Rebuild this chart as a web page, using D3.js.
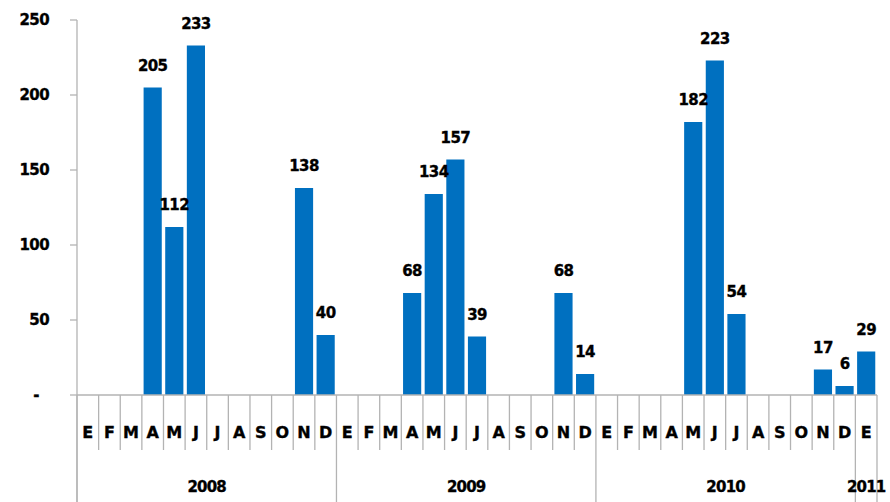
<!DOCTYPE html>
<html>
<head>
<meta charset="utf-8">
<script src="https://cdn.jsdelivr.net/npm/d3@7"></script>
<style>
  html, body { margin: 0; padding: 0; background: #fff; }
  #chart { width: 890px; height: 502px; }
  text { font-family: "DejaVu Sans", sans-serif; font-weight: bold; fill: #000; stroke: #000; stroke-width: 0.35px; }
</style>
</head>
<body>
<div id="chart"></div>
<script>
// meses (enero..diciembre) y años
const months = ["E", "F", "M", "A", "M", "J", "J", "A", "S", "O", "N", "D"];
const years = ["2008", "2009", "2010", "2011"];
const monthsPerYear = [12, 12, 12, 1];
const values2008 = [0, 0, 0, 205, 112, 233, 0, 0, 0, 0, 138, 40];
const values2009 = [0, 0, 0, 68, 134, 157, 39, 0, 0, 0, 68, 14];
const values2010 = [0, 0, 0, 0, 182, 223, 54, 0, 0, 0, 17, 6];
const values2011 = [29];
const yTicks = [0, 50, 100, 150, 200, 250];

const width = 890, height = 502;
const plot = { left: 77, right: 877, top: 20, bottom: 395 };

// une toutes les séries en une liste de catégories
const allValues = [values2008, values2009, values2010, values2011];
const data = [];
years.forEach((yr, yi) => {
  for (let m = 0; m < monthsPerYear[yi]; m++) {
    data.push({ key: yr + "-" + m, year: yr, month: months[m], value: allValues[yi][m] });
  }
});

const svg = d3.select("#chart")
  .append("svg")
  .attr("width", width)
  .attr("height", height);

const x = d3.scaleBand()
  .domain(data.map(d => d.key))
  .range([plot.left, plot.right])
  .paddingInner(0.16)
  .paddingOuter(0.08);

const y = d3.scaleLinear()
  .domain([0, 250])
  .range([plot.bottom, plot.top]);

const step = x.step();
const grey = "#b3b3b3";

// axe Y
const yAxis = svg.append("g");
yAxis.append("line")
  .attr("x1", plot.left).attr("x2", plot.left)
  .attr("y1", y(250)).attr("y2", height)
  .attr("stroke", grey).attr("stroke-width", 1.3);

yAxis.selectAll(".ytick")
  .data(yTicks)
  .enter().append("line")
  .attr("x1", plot.left - 7).attr("x2", plot.left)
  .attr("y1", d => y(d)).attr("y2", d => y(d))
  .attr("stroke", grey).attr("stroke-width", 1.3);

yAxis.selectAll(".ylab")
  .data(yTicks)
  .enter().append("text")
  .attr("x", d => d === 0 ? 39 : 49)
  .attr("y", d => y(d))
  .attr("dy", "0.35em")
  .attr("text-anchor", "end")
  .style("font-size", "15px")
  .style("letter-spacing", "-0.6px")
  .text(d => d === 0 ? "-" : d);

// barres
svg.selectAll(".bar")
  .data(data.filter(d => d.value > 0))
  .enter().append("rect")
  .attr("x", d => x(d.key))
  .attr("width", x.bandwidth())
  .attr("y", d => y(d.value))
  .attr("height", d => y(0) - y(d.value))
  .attr("fill", "#0070c0");

// étiquettes de valeurs
svg.selectAll(".vlab")
  .data(data.filter(d => d.value > 0))
  .enter().append("text")
  .attr("x", d => x(d.key) + x.bandwidth() / 2)
  .attr("y", d => y(d.value) - 17)
  .attr("text-anchor", "middle")
  .style("font-size", "15px")
  .style("letter-spacing", "-0.6px")
  .text(d => d.value);

// ligne de base
svg.append("line")
  .attr("x1", plot.left).attr("x2", plot.right)
  .attr("y1", y(0)).attr("y2", y(0))
  .attr("stroke", grey).attr("stroke-width", 1.3);

// séparateurs de mois et d'années
const sepData = d3.range(data.length + 1);
let cum = 0;
const yearStarts = [0];
monthsPerYear.forEach(n => { cum += n; yearStarts.push(cum); });

svg.selectAll(".sep")
  .data(sepData)
  .enter().append("line")
  .attr("x1", i => plot.left + i * step)
  .attr("x2", i => plot.left + i * step)
  .attr("y1", y(0))
  .attr("y2", i => yearStarts.includes(i) ? height : 450)
  .attr("stroke", grey).attr("stroke-width", 1.3);

// mois
svg.selectAll(".mlab")
  .data(data)
  .enter().append("text")
  .attr("x", d => x(d.key) + x.bandwidth() / 2)
  .attr("y", 432)
  .attr("dy", "0.35em")
  .attr("text-anchor", "middle")
  .style("font-size", "16px")
  .text(d => d.month);

// années
svg.selectAll(".ylabel")
  .data(years)
  .enter().append("text")
  .attr("x", (d, i) => plot.left + (yearStarts[i] + yearStarts[i + 1]) / 2 * step)
  .attr("y", 487)
  .attr("dy", "0.35em")
  .attr("text-anchor", "middle")
  .style("font-size", "15px")
  .style("letter-spacing", "-0.8px")
  .text(d => d);
</script>
</body>
</html>
